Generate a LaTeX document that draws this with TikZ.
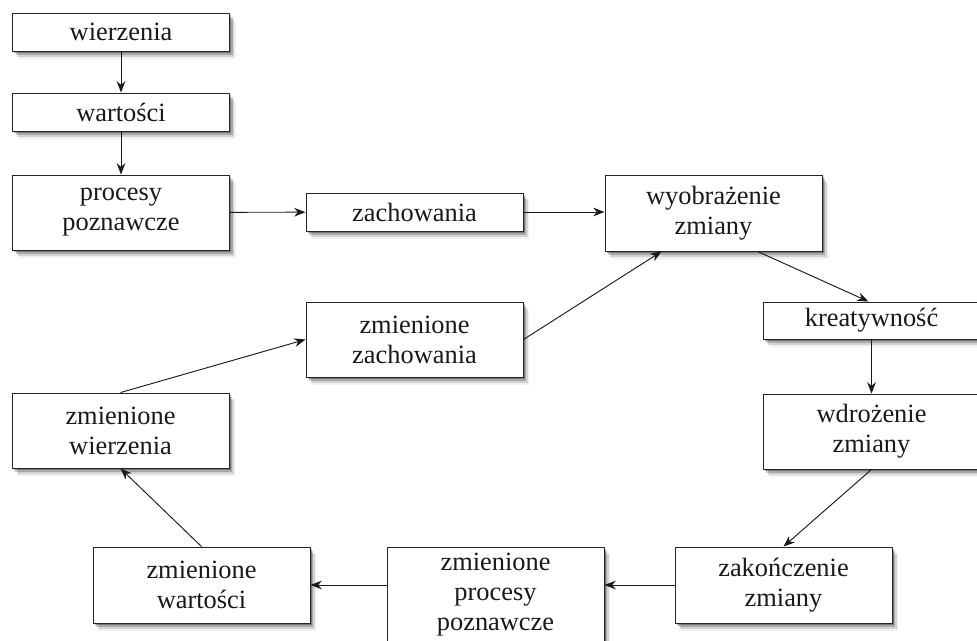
\documentclass[tikz,border=0pt]{standalone}
\usepackage{fontspec}
\setmainfont{Liberation Serif}
\usetikzlibrary{shadows,arrows.meta,calc}
\tikzset{
  softshadow/.style={
    drop shadow={shadow xshift=1.2pt,shadow yshift=-1.5pt,opacity=.3,fill=black},
    drop shadow={shadow xshift=2.4pt,shadow yshift=-3pt,opacity=.2,fill=black},
    drop shadow={shadow xshift=3.6pt,shadow yshift=-4.5pt,opacity=.12,fill=black},
    drop shadow={shadow xshift=4.6pt,shadow yshift=-5.8pt,opacity=.06,fill=black}},
  box/.style={draw=black!85, fill=white, line width=0.7pt, inner sep=0pt,
    minimum width=217*0.75pt, align=center, text=black!90,
    font=\fontsize{19.8}{22.5}\selectfont, softshadow},
  hh/.style={minimum height=#1*0.75pt},
  conn/.style={draw=black!90, line width=0.7pt, -{Stealth[length=8.5pt,width=6.5pt]}}
}
\begin{document}
\begin{tikzpicture}[x=0.75pt,y=-0.75pt]
\useasboundingbox (0,0) rectangle (977,641);
\node[box,hh=38] (wier) at (121,32) {wierzenia};
\node[box,hh=38] (wart) at (121,112) {wartości};
\node[box,hh=75] (proc) at (121,212.5) {procesy\\poznawcze};
\node[box,hh=38] (zach) at (414.5,212) {zachowania};
\node[box,hh=76] (wyo) at (713.5,213) {wyobrażenie\\zmiany};
\node[box,hh=37] (kre) at (871.5,320.5) {kreatywność};
\node[box,hh=75] (wdr) at (871.5,431.5) {wdrożenie\\zmiany};
\node[box,hh=76] (zak) at (783.5,585) {zakończenie\\zmiany};
\node[box,hh=96] (zpp) at (495.5,595) {zmienione\\procesy\\poznawcze};
\node[box,hh=76] (zwart) at (201.5,585) {zmienione\\wartości};
\node[box,hh=75] (zwier) at (120.5,430.5) {zmienione\\wierzenia};
\node[box,hh=75] (zzach) at (414.5,339.5) {zmienione\\zachowania};

\draw[conn] (wier) -- (wart);
\draw[conn] (wart) -- (proc);
\draw[conn] (proc) -- (zach);
\draw[conn] (zach.east) -- (zach.east -| wyo.west);
\draw[conn] (zzach.east) -- ($(wyo.south west)+(57,0)$);
\draw[conn] ($(wyo.south east)+(-65,0)$) -- ($(kre.north)+(-3,0)$);
\draw[conn] (kre) -- (wdr);
\draw[conn] (wdr.south) -- (zak.north);
\draw[conn] (zak.west) -- (zak.west -| zpp.east);
\draw[conn] (zwart.east -| zpp.west) -- (zwart.east);
\draw[conn] (zwart.north) -- (zwier.south);
\draw[conn] (zwier.north) -- (zzach.west);
\end{tikzpicture}
\end{document}
